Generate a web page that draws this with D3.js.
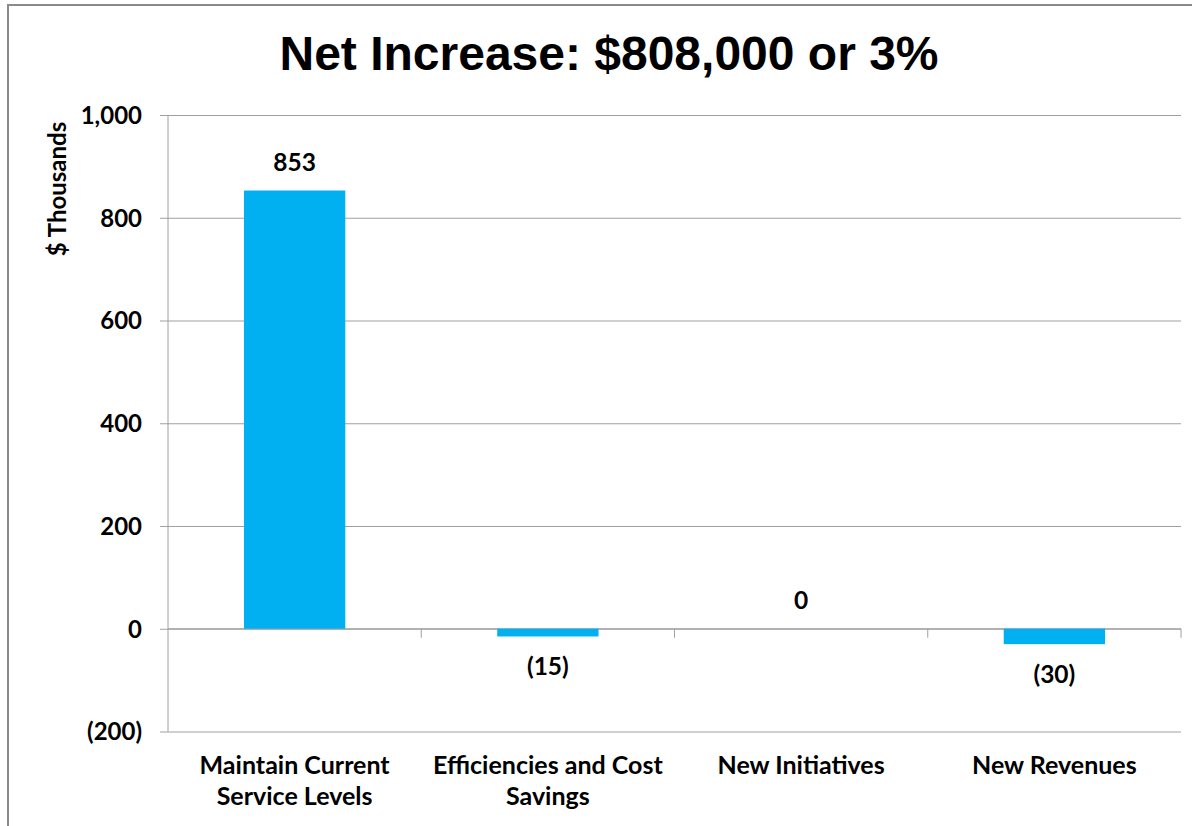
<!DOCTYPE html>
<html>
<head>
<meta charset="utf-8">
<script src="https://cdn.jsdelivr.net/npm/d3@7"></script>
<style>
  html, body { margin: 0; padding: 0; background: #fff; }
  svg { display: block; }
  text { font-family: Lato, "Open Sans", sans-serif; font-weight: bold; fill: #000; }
  .title { font-family: "Liberation Sans", Arial, sans-serif; }
</style>
</head>
<body>
<svg id="chart" width="1192" height="826"></svg>
<script>
// Budget change components, $ thousands
const titleText = "Net Increase: $808,000 or 3%";
const categories = [
  ["Maintain Current", "Service Levels"],
  ["Efficiencies and Cost", "Savings"],
  ["New Initiatives"],
  ["New Revenues"]
];
const values = [853, -15, 0, -30];
const yTicks = [-200, 0, 200, 400, 600, 800, 1000];
const yLabel = "$ Thousands";

const W = 1192, H = 826;
const plot = { left: 168, right: 1181, top: 115, bottom: 731.5 };

const svg = d3.select("#chart");

// Outer frame
svg.append("rect")
  .attr("x", 8).attr("y", 5)
  .attr("width", W + 10).attr("height", H + 10)
  .attr("fill", "none")
  .attr("stroke", "#8a8a8a")
  .attr("stroke-width", 2);

const keys = categories.map(c => c.join(" "));

const x = d3.scaleBand()
  .domain(keys)
  .range([plot.left, plot.right])
  .paddingInner(0.6)
  .paddingOuter(0.3);

const xb = d3.scaleBand().domain(keys).range([plot.left, plot.right]).padding(0);

const y = d3.scaleLinear()
  .domain([d3.min(yTicks), d3.max(yTicks)])
  .range([plot.bottom, plot.top]);

const fmt = v => v < 0 ? `(${d3.format(",")(-v)})` : d3.format(",")(v);

// Gridlines and value axis
const yAxis = d3.axisLeft(y)
  .tickValues(yTicks)
  .tickSize(plot.right - plot.left + 8)
  .tickFormat(fmt);

const gy = svg.append("g")
  .attr("transform", `translate(${plot.right},0)`)
  .call(yAxis);
gy.select(".domain").remove();
gy.selectAll(".tick line").attr("stroke", "#a0a0a0").attr("stroke-width", 1);
gy.selectAll(".tick text")
  .attr("x", -(plot.right - plot.left) - 26)
  .attr("dy", "0.35em")
  .style("font-size", "24px");

// Vertical value-axis line
svg.append("line")
  .attr("x1", plot.left).attr("x2", plot.left)
  .attr("y1", plot.top).attr("y2", plot.bottom)
  .attr("stroke", "#a0a0a0");

// Category axis at zero with ticks between categories
const y0 = y(0);
svg.append("line")
  .attr("x1", plot.left).attr("x2", plot.right)
  .attr("y1", y0).attr("y2", y0)
  .attr("stroke", "#a0a0a0");
svg.append("g").selectAll("line")
  .data(keys)
  .join("line")
  .attr("x1", d => xb(d) + xb.bandwidth())
  .attr("x2", d => xb(d) + xb.bandwidth())
  .attr("y1", y0).attr("y2", y0 + 9)
  .attr("stroke", "#a0a0a0");

// Bars
svg.append("g").selectAll("rect")
  .data(values.map((v, i) => ({ k: keys[i], v })))
  .join("rect")
  .attr("x", d => x(d.k))
  .attr("width", x.bandwidth())
  .attr("y", d => Math.min(y(d.v), y0))
  .attr("height", d => Math.abs(y(d.v) - y0))
  .attr("fill", "#00b0f0");

// Value labels
svg.append("g").selectAll("text")
  .data(values.map((v, i) => ({ k: keys[i], v })))
  .join("text")
  .attr("x", d => x(d.k) + x.bandwidth() / 2)
  .attr("y", d => d.v < 0 ? y(d.v) + 39 : y(d.v) - 20)
  .attr("text-anchor", "middle")
  .style("font-size", "24.5px")
  .text(d => fmt(d.v));

// Category labels
const cl = svg.append("g").selectAll("text")
  .data(categories)
  .join("text")
  .attr("x", (d, i) => xb(keys[i]) + xb.bandwidth() / 2)
  .attr("y", 774)
  .attr("text-anchor", "middle")
  .style("font-size", "25px");
cl.selectAll("tspan")
  .data(d => d)
  .join("tspan")
  .attr("x", function () { return d3.select(this.parentNode).attr("x"); })
  .attr("dy", (d, i) => i === 0 ? 0 : 31)
  .text(d => d);

// Axis title
svg.append("text")
  .attr("transform", `translate(66,${(123 + 255) / 2}) rotate(-90)`)
  .attr("text-anchor", "middle")
  .style("font-size", "24px")
  .text(yLabel);

// Chart title
svg.append("text")
  .attr("class", "title")
  .attr("x", 609)
  .attr("y", 70)
  .attr("text-anchor", "middle")
  .style("font-size", "48px")
  .text(titleText);
</script>
</body>
</html>
